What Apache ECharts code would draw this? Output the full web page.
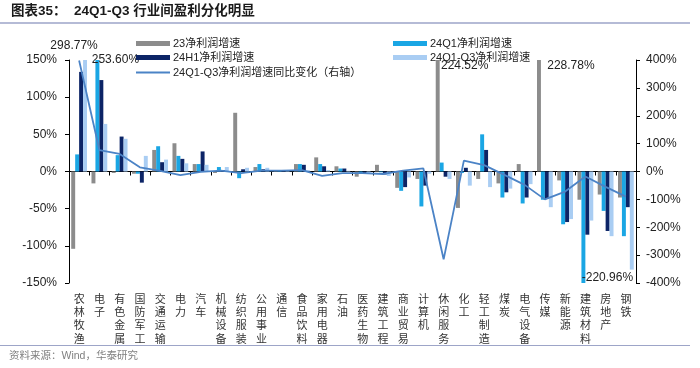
<!DOCTYPE html>
<html><head><meta charset="utf-8">
<script src="https://cdn.jsdelivr.net/npm/echarts@6/dist/echarts.min.js"></script>
<style>html,body{margin:0;padding:0;background:#fff}#c{width:700px;height:368px}</style>
</head><body><div id="c"></div>
<script>
const categories = ['农林牧渔','电子','有色金属','国防军工','交通运输','电力','汽车','机械设备','纺织服装','公用事业','通信','食品饮料','家用电器','石油','医药生物','建筑工程','商业贸易','计算机','休闲服务','化工','轻工制造','煤炭','电气设备','传媒','新能源','建筑材料','房地产','钢铁'];
const growth23   = [-104, -16, -2, -3, 29, 38, 10, -2, 79, 6, 2, 10, 19, 7, -7, 9, -22, -10, 224.52, -49, -10, -16, 10, 228.78, -12, -38, -31, -35];
const growthQ1   = [23, 253.60, 22, -3, 34, 21, 10, 6, -9, 10, 2, 10, 10, 4, -3, -1, -26, -47, 12, -2, 50, -35, -43, -38, -71, -220.96, -53, -87];
const growthH1   = [134, 123, 47, -15, 12.5, 17, 27, 2, 3, 3, 2, 9, 7, 4, -3, -4, -21, -19, -7, 5, 29, -28, -35, -37, -68, -85, -80, -48];
const growthQ1Q3 = [298.77, 64, 44, 21, 16, 11, 9, 6, 5, 5, 1, 2, 2, 1, -2, -6, -8, -3, -10, -19, -21, -23, -17, -48, -64, -66, -87, -132];
const yoyChange  = [398, 77, 63, 15, 2, -13, -1, 3, -6, 3, 3, 5, -16, -6, -6, -9, 3, 11, -315, 39, 23, -12, -48, -100, -72, -18, -55, -90];
const leftTicks = {min: -150, max: 150, step: 50};
const rightTicks = {min: -400, max: 400, step: 100};
const seriesNames = ['23净利润增速','24Q1净利润增速','24H1净利润增速','24Q1-Q3净利润增速','24Q1-Q3净利润增速同比变化（右轴）'];

const FONT = "'Liberation Sans', Arial, 'Noto Sans CJK SC', sans-serif";
const colors = ['#8c8c8c', '#1aa6e4', '#0c2466', '#a9cdf3', '#4b83c6'];
// label offsets for values that exceed the axis range (styling only)
const labelOffsets = {
  '3|0': [-11, -3],
  '1|1': [18, 11],
  '0|18': [27, 17],
  '0|23': [32, 17],
  '1|25': [24, -16]
};
function mk(arr, si) {
  return arr.map((v, i) => {
    if (Math.abs(v) > leftTicks.max) {
      return {
        value: v,
        label: {
          show: true, position: v > 0 ? 'top' : 'bottom',
          offset: labelOffsets[si + '|' + i] || [0, 0],
          formatter: v.toFixed(2) + '%', color: '#222', fontSize: 12, fontFamily: FONT
        }
      };
    }
    return v;
  });
}
const barData = [growth23, growthQ1, growthH1, growthQ1Q3];
const chart = echarts.init(document.getElementById('c'), null, {renderer: 'canvas'});
const legendPos = [[131, 33], [388, 33], [131, 47], [388, 47], [131, 62]];
const option = {
  animation: false,
  textStyle: {fontFamily: FONT},
  grid: {left: 69, right: 64, top: 60, bottom: 85, containLabel: false, outerBoundsMode: 'none'},
  legend: seriesNames.map((n, i) => ({
    data: [n], left: legendPos[i][0], top: legendPos[i][1],
    itemWidth: 34, itemHeight: i === 4 ? 2 : 5, itemGap: 0,
    icon: 'rect',
    textStyle: {fontSize: 11, color: '#222', fontFamily: FONT, padding: [0, 0, 0, -2]},
    selectedMode: false
  })),
  xAxis: [
    {
      type: 'category', data: categories, position: 'bottom',
      axisLine: {show: false, onZero: false},
      axisTick: {show: false},
      axisLabel: {
        interval: 0, margin: 9, fontSize: 11, lineHeight: 13.3, color: '#333',
        fontFamily: "'Noto Sans CJK SC', sans-serif",
        formatter: v => v.split('').join('\n'), verticalAlign: 'top', hideOverlap: false
      },
      splitLine: {show: false}
    },
    {
      type: 'category', data: categories, position: 'bottom',
      axisLine: {show: true, onZero: true, onZeroAxisIndex: 0, lineStyle: {color: '#000', width: 1}},
      axisTick: {show: true, interval: 0, length: 4, inside: false, lineStyle: {color: '#000'}},
      axisLabel: {show: false},
      splitLine: {show: false}
    }
  ],
  yAxis: [
    {
      type: 'value', min: leftTicks.min, max: leftTicks.max, interval: leftTicks.step,
      axisLine: {show: true, lineStyle: {color: '#000'}},
      axisTick: {show: true, length: 4, lineStyle: {color: '#000'}},
      axisLabel: {formatter: '{value}%', fontSize: 12, color: '#222', margin: 12, fontFamily: FONT},
      splitLine: {show: false}
    },
    {
      type: 'value', min: rightTicks.min, max: rightTicks.max, interval: rightTicks.step,
      axisLine: {show: true, lineStyle: {color: '#000'}},
      axisTick: {show: true, length: 4, lineStyle: {color: '#000'}},
      axisLabel: {formatter: '{value}%', fontSize: 12, color: '#222', margin: 10, fontFamily: FONT},
      splitLine: {show: false}
    }
  ],
  series: [
    ...barData.map((arr, si) => ({
      name: seriesNames[si], type: 'bar', yAxisIndex: 0, xAxisIndex: 0,
      data: mk(arr, si), itemStyle: {color: colors[si]},
      barGap: '0%', barCategoryGap: '22%', clip: true
    })),
    {
      name: seriesNames[4], type: 'line', yAxisIndex: 1, xAxisIndex: 0, data: yoyChange,
      symbol: 'none', lineStyle: {color: colors[4], width: 1.8}, itemStyle: {color: colors[4]}, z: 5
    }
  ],
  graphic: [
    {type: 'text', left: 11, top: 5, style: {text: '图表35：  24Q1-Q3 行业间盈利分化明显', font: "bold 13.5px 'Liberation Sans', 'Noto Sans CJK SC', sans-serif", fill: '#1a1a1a'}},
    {type: 'line', shape: {x1: 0, y1: 23, x2: 690, y2: 23}, style: {stroke: '#9da5c8', lineWidth: 1.5}},
    {type: 'line', shape: {x1: 0, y1: 345.5, x2: 690, y2: 345.5}, style: {stroke: '#9da5c8', lineWidth: 1.2}},
    {type: 'text', left: 9, top: 351, style: {text: '资料来源：Wind，华泰研究', font: "10.5px 'Liberation Sans', 'Noto Sans CJK SC', sans-serif", fill: '#808080'}}
  ]
};
chart.setOption(option);
</script></body></html>
